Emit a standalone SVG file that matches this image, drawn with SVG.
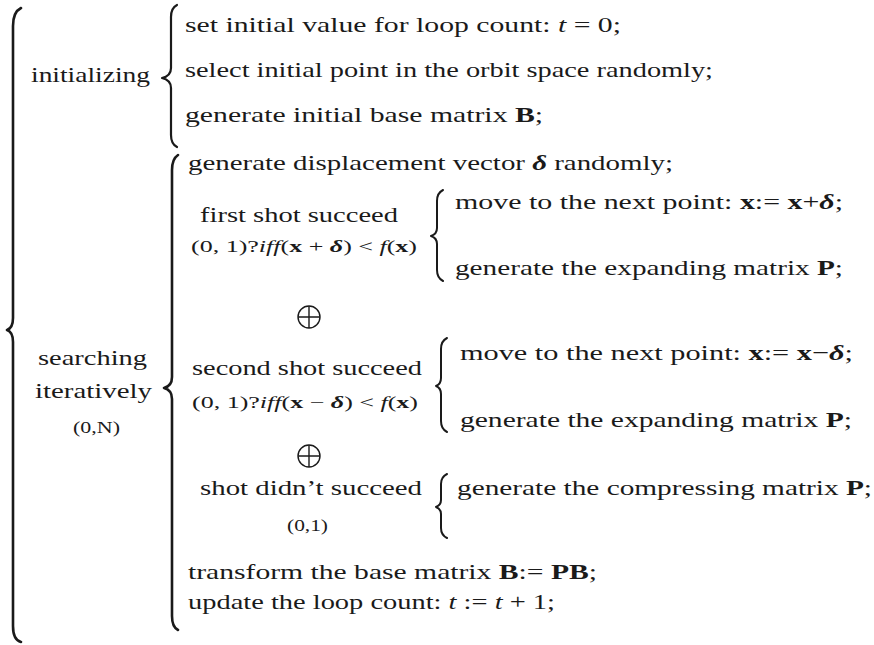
<svg xmlns="http://www.w3.org/2000/svg" width="874" height="645" viewBox="0 0 874 645">
<style>
text{font-family:"Liberation Serif","Times New Roman",serif;fill:#1a1a1a;font-size:21.5px}
.s{font-size:16px}
.b{font-weight:bold}
.i{font-style:italic}
.bi{font-weight:bold;font-style:italic}
.br{fill:none;stroke:#1a1a1a;stroke-linecap:round;stroke-linejoin:round}
.op{fill:none;stroke:#1a1a1a;stroke-width:1.4}
</style>
<rect width="874" height="645" fill="#fff"/>
<g id="connectors">
<path class="br" stroke-width="2.6" d="M21 8 Q13 12 13 26 L13 318 Q13 328 7 330 Q13 332 13 342 L13 626 Q13 640 21 642"/>
<path class="br" stroke-width="2.2" d="M177 5 Q171 8 171 17 L171 68 Q171 76 162 78 Q171 80 171 88 L171 135 Q171 144 177 147"/>
<path class="br" stroke-width="2.6" d="M178 155 Q172 159 172 170 L172 377 Q172 386 164 388 Q172 390 172 399 L172 616 Q172 627 178 630"/>
<path class="br" stroke-width="2" d="M443 190 Q437 193 437 201 L437 228 Q437 234 431 236 Q437 238 437 244 L437 270 Q437 278 443 281"/>
<path class="br" stroke-width="2" d="M447 338 Q441 341 441 349 L441 378 Q441 384 436 386 Q441 388 441 394 L441 421 Q441 429 447 432"/>
<path class="br" stroke-width="2" d="M447 474 Q441 477 441 484 L441 500 Q441 505 436 507 Q441 509 441 514 L441 528 Q441 535 447 538"/>
</g>
<g id="initializing">
<text x="31" y="82" textLength="119" lengthAdjust="spacingAndGlyphs">initializing</text>
</g>
<g id="init-steps">
<text x="185" y="32" textLength="436" lengthAdjust="spacingAndGlyphs">set initial value for loop count: <tspan class="i">t</tspan> = 0;</text>
<text x="185" y="77" textLength="528" lengthAdjust="spacingAndGlyphs">select initial point in the orbit space randomly;</text>
<text x="185" y="122" textLength="358" lengthAdjust="spacingAndGlyphs">generate initial base matrix <tspan class="b">B</tspan>;</text>
</g>
<g id="searching">
<text x="38" y="365" textLength="109" lengthAdjust="spacingAndGlyphs">searching</text>
<text x="35" y="398" textLength="117" lengthAdjust="spacingAndGlyphs">iteratively</text>
<text class="s" x="73" y="433" textLength="47" lengthAdjust="spacingAndGlyphs">(0,N)</text>
</g>
<g id="displacement">
<text x="188" y="170" textLength="485" lengthAdjust="spacingAndGlyphs">generate displacement vector <tspan class="bi">δ</tspan> randomly;</text>
</g>
<g id="first-shot">
<text x="200" y="222" textLength="198" lengthAdjust="spacingAndGlyphs">first shot succeed</text>
<text class="s" x="191" y="252" textLength="226" lengthAdjust="spacingAndGlyphs">(0, 1)?<tspan class="i">iff</tspan>(<tspan class="b">x</tspan> + <tspan class="bi">δ</tspan>) &lt; <tspan class="i">f</tspan>(<tspan class="b">x</tspan>)</text>
<text x="455" y="209" textLength="388" lengthAdjust="spacingAndGlyphs">move to the next point: <tspan class="b">x</tspan>:= <tspan class="b">x</tspan>+<tspan class="bi">δ</tspan>;</text>
<text x="455" y="275" textLength="388" lengthAdjust="spacingAndGlyphs">generate the expanding matrix <tspan class="b">P</tspan>;</text>
</g>
<g id="oplus-1">
<circle class="op" cx="309" cy="317" r="11"/>
<path class="op" d="M298 317 H320 M309 306 V328"/>
</g>
<g id="second-shot">
<text x="192" y="375" textLength="230" lengthAdjust="spacingAndGlyphs">second shot succeed</text>
<text class="s" x="192" y="408" textLength="226" lengthAdjust="spacingAndGlyphs">(0, 1)?<tspan class="i">iff</tspan>(<tspan class="b">x</tspan> − <tspan class="bi">δ</tspan>) &lt; <tspan class="i">f</tspan>(<tspan class="b">x</tspan>)</text>
<text x="460" y="360" textLength="393" lengthAdjust="spacingAndGlyphs">move to the next point: <tspan class="b">x</tspan>:= <tspan class="b">x</tspan>−<tspan class="bi">δ</tspan>;</text>
<text x="460" y="427" textLength="392" lengthAdjust="spacingAndGlyphs">generate the expanding matrix <tspan class="b">P</tspan>;</text>
</g>
<g id="oplus-2">
<circle class="op" cx="309" cy="456" r="11"/>
<path class="op" d="M298 456 H320 M309 445 V467"/>
</g>
<g id="no-shot">
<text x="200" y="495" textLength="222" lengthAdjust="spacingAndGlyphs">shot didn’t succeed</text>
<text class="s" x="287" y="531" textLength="41" lengthAdjust="spacingAndGlyphs">(0,1)</text>
<text x="457" y="495" textLength="415" lengthAdjust="spacingAndGlyphs">generate the compressing matrix <tspan class="b">P</tspan>;</text>
</g>
<g id="final-steps">
<text x="188" y="579" textLength="409" lengthAdjust="spacingAndGlyphs">transform the base matrix <tspan class="b">B</tspan>:= <tspan class="b">PB</tspan>;</text>
<text x="188" y="609" textLength="367" lengthAdjust="spacingAndGlyphs">update the loop count: <tspan class="i">t</tspan> := <tspan class="i">t</tspan> + 1;</text>
</g>
</svg>
